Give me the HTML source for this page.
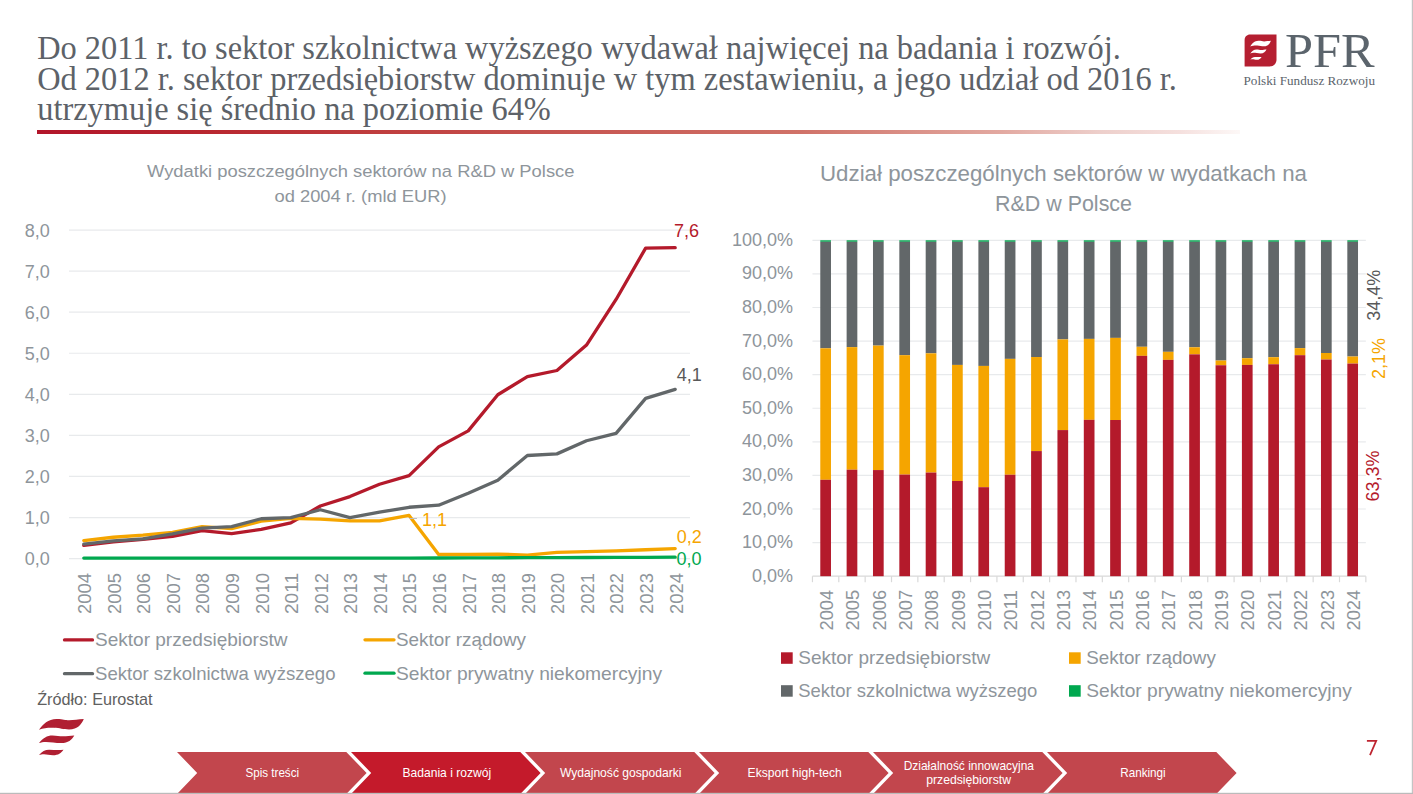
<!DOCTYPE html><html><head><meta charset="utf-8"><style>html,body{margin:0;padding:0;background:#fff;}svg{display:block}</style></head><body>
<svg width="1413" height="794" viewBox="0 0 1413 794">
<defs><linearGradient id="ul" x1="0" x2="1" y1="0" y2="0"><stop offset="0" stop-color="#B2152A"/><stop offset="0.135" stop-color="#B8262F"/><stop offset="0.302" stop-color="#C04040"/><stop offset="0.634" stop-color="#D07268"/><stop offset="0.80" stop-color="#E2A8A0"/><stop offset="0.884" stop-color="#EDCFCB"/><stop offset="0.95" stop-color="#F5E0DE"/><stop offset="1" stop-color="#FDF8F7"/></linearGradient></defs>
<rect width="1413" height="794" fill="#fff"/>
<text x="37.20" y="59.00" font-size="33.0" fill="#5D6268" font-family='"Liberation Serif", serif' text-anchor="start" textLength="1083.56" lengthAdjust="spacingAndGlyphs">Do 2011 r. to sektor szkolnictwa wyższego wydawał najwięcej na badania i rozwój.</text>
<text x="37.20" y="89.50" font-size="33.0" fill="#5D6268" font-family='"Liberation Serif", serif' text-anchor="start" textLength="1139.75" lengthAdjust="spacingAndGlyphs">Od 2012 r. sektor przedsiębiorstw dominuje w tym zestawieniu, a jego udział od 2016 r.</text>
<text x="37.20" y="120.00" font-size="33.0" fill="#5D6268" font-family='"Liberation Serif", serif' text-anchor="start" textLength="513.62" lengthAdjust="spacingAndGlyphs">utrzymuje się średnio na poziomie 64%</text>
<rect x="37" y="130" width="1203" height="4" fill="url(#ul)"/>
<path d="M1250.0,34.6 H1276.5 V59.7 C1276.5,63.5 1273.5,66.5 1269.7,66.5 H1244.6 V40.0 C1244.6,37.0 1247.0,34.6 1250.0,34.6 Z" fill="#B51F31"/>
<path transform="translate(1250.3,40.8) scale(0.46,0.526)" d="M0,10.7 C4,5 9,0 17.6,-0.1 C24,-0.2 26,1.2 30,1.2 C35,1.2 39,0 44.8,-0.1 C42.5,5 39,10.4 30,10.4 C24,10.4 21,9 15,8.8 C9,8.6 5,9 0,10.7 Z M0,24 C4,19 8,16.4 13.4,16.4 C18,16.4 20,17.3 24,17.3 C28,17.3 31,16.6 35.3,16.4 C33,20.5 29,24.1 22.5,24.1 C16,24.1 12,22.9 7,22.9 C4,22.9 2,23.3 0,24 Z M0,36.1 C3,32.5 6,30.7 10.1,30.7 C15,30.7 19,31.3 24.5,30.7 C22,34 19.5,36.2 14,36.2 C10,36.2 8,35.3 5,35.3 C3,35.3 1.5,35.6 0,36.1 Z" fill="#FFFFFF"/>
<text x="1285.00" y="67.20" font-size="48" fill="#5B646C" font-family='"Liberation Serif", serif' text-anchor="start" textLength="89.60" lengthAdjust="spacingAndGlyphs">PFR</text>
<text x="1243.50" y="84.50" font-size="12" fill="#5B646C" font-family='"Liberation Serif", serif' text-anchor="start" textLength="131.50" lengthAdjust="spacingAndGlyphs">Polski Fundusz Rozwoju</text>
<text x="147.00" y="176.90" font-size="17.2" fill="#8E959B" font-family='"Liberation Sans", sans-serif' text-anchor="start" textLength="427.50" lengthAdjust="spacingAndGlyphs">Wydatki poszczególnych sektorów na R&amp;D w Polsce</text>
<text x="274.50" y="202.40" font-size="17.2" fill="#8E959B" font-family='"Liberation Sans", sans-serif' text-anchor="start" textLength="172.00" lengthAdjust="spacingAndGlyphs">od 2004 r. (mld EUR)</text>
<line x1="69" y1="558.60" x2="690" y2="558.60" stroke="#E8EAEC" stroke-width="1.2"/>
<text x="49.80" y="565.10" font-size="18" fill="#8E959B" font-family='"Liberation Sans", sans-serif' text-anchor="end">0,0</text>
<line x1="69" y1="517.53" x2="690" y2="517.53" stroke="#E8EAEC" stroke-width="1.2"/>
<text x="49.80" y="524.03" font-size="18" fill="#8E959B" font-family='"Liberation Sans", sans-serif' text-anchor="end">1,0</text>
<line x1="69" y1="476.46" x2="690" y2="476.46" stroke="#E8EAEC" stroke-width="1.2"/>
<text x="49.80" y="482.96" font-size="18" fill="#8E959B" font-family='"Liberation Sans", sans-serif' text-anchor="end">2,0</text>
<line x1="69" y1="435.39" x2="690" y2="435.39" stroke="#E8EAEC" stroke-width="1.2"/>
<text x="49.80" y="441.89" font-size="18" fill="#8E959B" font-family='"Liberation Sans", sans-serif' text-anchor="end">3,0</text>
<line x1="69" y1="394.32" x2="690" y2="394.32" stroke="#E8EAEC" stroke-width="1.2"/>
<text x="49.80" y="400.82" font-size="18" fill="#8E959B" font-family='"Liberation Sans", sans-serif' text-anchor="end">4,0</text>
<line x1="69" y1="353.25" x2="690" y2="353.25" stroke="#E8EAEC" stroke-width="1.2"/>
<text x="49.80" y="359.75" font-size="18" fill="#8E959B" font-family='"Liberation Sans", sans-serif' text-anchor="end">5,0</text>
<line x1="69" y1="312.18" x2="690" y2="312.18" stroke="#E8EAEC" stroke-width="1.2"/>
<text x="49.80" y="318.68" font-size="18" fill="#8E959B" font-family='"Liberation Sans", sans-serif' text-anchor="end">6,0</text>
<line x1="69" y1="271.11" x2="690" y2="271.11" stroke="#E8EAEC" stroke-width="1.2"/>
<text x="49.80" y="277.61" font-size="18" fill="#8E959B" font-family='"Liberation Sans", sans-serif' text-anchor="end">7,0</text>
<line x1="69" y1="230.04" x2="690" y2="230.04" stroke="#E8EAEC" stroke-width="1.2"/>
<text x="49.80" y="236.54" font-size="18" fill="#8E959B" font-family='"Liberation Sans", sans-serif' text-anchor="end">8,0</text>
<text transform="translate(91.09,573.00) rotate(-90)" font-size="18" fill="#8E959B" font-family='"Liberation Sans", sans-serif' text-anchor="end" textLength="41" lengthAdjust="spacingAndGlyphs">2004</text>
<text transform="translate(120.66,573.00) rotate(-90)" font-size="18" fill="#8E959B" font-family='"Liberation Sans", sans-serif' text-anchor="end" textLength="41" lengthAdjust="spacingAndGlyphs">2005</text>
<text transform="translate(150.23,573.00) rotate(-90)" font-size="18" fill="#8E959B" font-family='"Liberation Sans", sans-serif' text-anchor="end" textLength="41" lengthAdjust="spacingAndGlyphs">2006</text>
<text transform="translate(179.80,573.00) rotate(-90)" font-size="18" fill="#8E959B" font-family='"Liberation Sans", sans-serif' text-anchor="end" textLength="41" lengthAdjust="spacingAndGlyphs">2007</text>
<text transform="translate(209.37,573.00) rotate(-90)" font-size="18" fill="#8E959B" font-family='"Liberation Sans", sans-serif' text-anchor="end" textLength="41" lengthAdjust="spacingAndGlyphs">2008</text>
<text transform="translate(238.94,573.00) rotate(-90)" font-size="18" fill="#8E959B" font-family='"Liberation Sans", sans-serif' text-anchor="end" textLength="41" lengthAdjust="spacingAndGlyphs">2009</text>
<text transform="translate(268.51,573.00) rotate(-90)" font-size="18" fill="#8E959B" font-family='"Liberation Sans", sans-serif' text-anchor="end" textLength="41" lengthAdjust="spacingAndGlyphs">2010</text>
<text transform="translate(298.09,573.00) rotate(-90)" font-size="18" fill="#8E959B" font-family='"Liberation Sans", sans-serif' text-anchor="end" textLength="41" lengthAdjust="spacingAndGlyphs">2011</text>
<text transform="translate(327.66,573.00) rotate(-90)" font-size="18" fill="#8E959B" font-family='"Liberation Sans", sans-serif' text-anchor="end" textLength="41" lengthAdjust="spacingAndGlyphs">2012</text>
<text transform="translate(357.23,573.00) rotate(-90)" font-size="18" fill="#8E959B" font-family='"Liberation Sans", sans-serif' text-anchor="end" textLength="41" lengthAdjust="spacingAndGlyphs">2013</text>
<text transform="translate(386.80,573.00) rotate(-90)" font-size="18" fill="#8E959B" font-family='"Liberation Sans", sans-serif' text-anchor="end" textLength="41" lengthAdjust="spacingAndGlyphs">2014</text>
<text transform="translate(416.37,573.00) rotate(-90)" font-size="18" fill="#8E959B" font-family='"Liberation Sans", sans-serif' text-anchor="end" textLength="41" lengthAdjust="spacingAndGlyphs">2015</text>
<text transform="translate(445.94,573.00) rotate(-90)" font-size="18" fill="#8E959B" font-family='"Liberation Sans", sans-serif' text-anchor="end" textLength="41" lengthAdjust="spacingAndGlyphs">2016</text>
<text transform="translate(475.51,573.00) rotate(-90)" font-size="18" fill="#8E959B" font-family='"Liberation Sans", sans-serif' text-anchor="end" textLength="41" lengthAdjust="spacingAndGlyphs">2017</text>
<text transform="translate(505.09,573.00) rotate(-90)" font-size="18" fill="#8E959B" font-family='"Liberation Sans", sans-serif' text-anchor="end" textLength="41" lengthAdjust="spacingAndGlyphs">2018</text>
<text transform="translate(534.66,573.00) rotate(-90)" font-size="18" fill="#8E959B" font-family='"Liberation Sans", sans-serif' text-anchor="end" textLength="41" lengthAdjust="spacingAndGlyphs">2019</text>
<text transform="translate(564.23,573.00) rotate(-90)" font-size="18" fill="#8E959B" font-family='"Liberation Sans", sans-serif' text-anchor="end" textLength="41" lengthAdjust="spacingAndGlyphs">2020</text>
<text transform="translate(593.80,573.00) rotate(-90)" font-size="18" fill="#8E959B" font-family='"Liberation Sans", sans-serif' text-anchor="end" textLength="41" lengthAdjust="spacingAndGlyphs">2021</text>
<text transform="translate(623.37,573.00) rotate(-90)" font-size="18" fill="#8E959B" font-family='"Liberation Sans", sans-serif' text-anchor="end" textLength="41" lengthAdjust="spacingAndGlyphs">2022</text>
<text transform="translate(652.94,573.00) rotate(-90)" font-size="18" fill="#8E959B" font-family='"Liberation Sans", sans-serif' text-anchor="end" textLength="41" lengthAdjust="spacingAndGlyphs">2023</text>
<text transform="translate(682.51,573.00) rotate(-90)" font-size="18" fill="#8E959B" font-family='"Liberation Sans", sans-serif' text-anchor="end" textLength="41" lengthAdjust="spacingAndGlyphs">2024</text>
<polyline points="83.79,545.46 113.36,541.76 142.93,539.30 172.50,536.42 202.07,530.67 231.64,533.55 261.21,529.44 290.79,522.87 320.36,506.03 349.93,496.58 379.50,484.26 409.07,475.64 438.64,446.89 468.21,430.87 497.79,394.73 527.36,376.66 556.93,370.50 586.50,345.04 616.07,299.45 645.64,248.11 675.21,247.70" fill="none" stroke="#B41A2B" stroke-width="3.3" stroke-linejoin="round" stroke-linecap="round"/>
<polyline points="83.79,540.53 113.36,537.24 142.93,535.19 172.50,532.32 202.07,526.57 231.64,528.62 261.21,521.23 290.79,518.35 320.36,519.17 349.93,520.82 379.50,520.82 409.07,515.48 438.64,554.49 468.21,554.49 497.79,554.08 527.36,555.11 556.93,552.44 586.50,551.62 616.07,550.80 645.64,549.77 675.21,548.54" fill="none" stroke="#F5A500" stroke-width="3.3" stroke-linejoin="round" stroke-linecap="round"/>
<polyline points="83.79,544.02 113.36,540.94 142.93,538.89 172.50,533.96 202.07,528.21 231.64,526.57 261.21,518.76 290.79,517.53 320.36,509.73 349.93,517.53 379.50,512.19 409.07,507.26 438.64,505.21 468.21,493.30 497.79,480.16 527.36,455.51 556.93,453.87 586.50,440.73 616.07,433.34 645.64,398.43 675.21,389.39" fill="none" stroke="#626769" stroke-width="3.3" stroke-linejoin="round" stroke-linecap="round"/>
<polyline points="83.79,558.11 113.36,558.11 142.93,558.11 172.50,558.11 202.07,558.11 231.64,558.11 261.21,558.11 290.79,558.11 320.36,558.11 349.93,558.11 379.50,558.11 409.07,558.11 438.64,557.98 468.21,557.90 497.79,557.78 527.36,557.70 556.93,557.57 586.50,557.49 616.07,557.37 645.64,557.29 675.21,557.16" fill="none" stroke="#00A84F" stroke-width="3.3" stroke-linejoin="round" stroke-linecap="round"/>
<line x1="409.07" y1="518.5" x2="417" y2="518.5" stroke="#BFBFBF" stroke-width="1"/>
<text x="422.00" y="526.00" font-size="18" fill="#F5A500" font-family='"Liberation Sans", sans-serif' text-anchor="start">1,1</text>
<text x="673.90" y="237.30" font-size="18" fill="#B41A2B" font-family='"Liberation Sans", sans-serif' text-anchor="start">7,6</text>
<text x="676.80" y="380.60" font-size="18" fill="#595959" font-family='"Liberation Sans", sans-serif' text-anchor="start">4,1</text>
<text x="676.80" y="543.40" font-size="18" fill="#F5A500" font-family='"Liberation Sans", sans-serif' text-anchor="start">0,2</text>
<text x="676.60" y="565.00" font-size="18" fill="#00A84F" font-family='"Liberation Sans", sans-serif' text-anchor="start">0,0</text>
<line x1="64.5" y1="639.9" x2="92.5" y2="639.9" stroke="#B41A2B" stroke-width="3.3" stroke-linecap="round"/>
<text x="95.00" y="646.20" font-size="19" fill="#8E959B" font-family='"Liberation Sans", sans-serif' text-anchor="start" textLength="192.50" lengthAdjust="spacingAndGlyphs">Sektor przedsiębiorstw</text>
<line x1="365" y1="639.8" x2="394" y2="639.8" stroke="#F5A500" stroke-width="3.3" stroke-linecap="round"/>
<text x="396.00" y="646.20" font-size="19" fill="#8E959B" font-family='"Liberation Sans", sans-serif' text-anchor="start" textLength="130.00" lengthAdjust="spacingAndGlyphs">Sektor rządowy</text>
<line x1="64.5" y1="673.7" x2="92.5" y2="673.7" stroke="#626769" stroke-width="3.3" stroke-linecap="round"/>
<text x="95.00" y="680.10" font-size="19" fill="#8E959B" font-family='"Liberation Sans", sans-serif' text-anchor="start" textLength="240.50" lengthAdjust="spacingAndGlyphs">Sektor szkolnictwa wyższego</text>
<line x1="365" y1="673.2" x2="394" y2="673.2" stroke="#00A84F" stroke-width="3.3" stroke-linecap="round"/>
<text x="396.00" y="680.10" font-size="19" fill="#8E959B" font-family='"Liberation Sans", sans-serif' text-anchor="start" textLength="266.00" lengthAdjust="spacingAndGlyphs">Sektor prywatny niekomercyjny</text>
<text x="37.20" y="704.80" font-size="16.4" fill="#606060" font-family='"Liberation Sans", sans-serif' text-anchor="start" textLength="115.30" lengthAdjust="spacingAndGlyphs">Źródło: Eurostat</text>
<text x="820.00" y="180.90" font-size="21.4" fill="#8E959B" font-family='"Liberation Sans", sans-serif' text-anchor="start" textLength="487.00" lengthAdjust="spacingAndGlyphs">Udział poszczególnych sektorów w wydatkach na</text>
<text x="995.00" y="210.90" font-size="21.4" fill="#8E959B" font-family='"Liberation Sans", sans-serif' text-anchor="start" textLength="137.00" lengthAdjust="spacingAndGlyphs">R&amp;D w Polsce</text>
<line x1="812.45" y1="542.61" x2="1365.85" y2="542.61" stroke="#E8EAEC" stroke-width="1.2"/>
<line x1="812.45" y1="509.02" x2="1365.85" y2="509.02" stroke="#E8EAEC" stroke-width="1.2"/>
<line x1="812.45" y1="475.43" x2="1365.85" y2="475.43" stroke="#E8EAEC" stroke-width="1.2"/>
<line x1="812.45" y1="441.84" x2="1365.85" y2="441.84" stroke="#E8EAEC" stroke-width="1.2"/>
<line x1="812.45" y1="408.25" x2="1365.85" y2="408.25" stroke="#E8EAEC" stroke-width="1.2"/>
<line x1="812.45" y1="374.66" x2="1365.85" y2="374.66" stroke="#E8EAEC" stroke-width="1.2"/>
<line x1="812.45" y1="341.07" x2="1365.85" y2="341.07" stroke="#E8EAEC" stroke-width="1.2"/>
<line x1="812.45" y1="307.48" x2="1365.85" y2="307.48" stroke="#E8EAEC" stroke-width="1.2"/>
<line x1="812.45" y1="273.89" x2="1365.85" y2="273.89" stroke="#E8EAEC" stroke-width="1.2"/>
<line x1="812.45" y1="240.30" x2="1365.85" y2="240.30" stroke="#E8EAEC" stroke-width="1.2"/>
<text x="793.00" y="581.80" font-size="18" fill="#8E959B" font-family='"Liberation Sans", sans-serif' text-anchor="end">0,0%</text>
<text x="793.00" y="548.21" font-size="18" fill="#8E959B" font-family='"Liberation Sans", sans-serif' text-anchor="end">10,0%</text>
<text x="793.00" y="514.62" font-size="18" fill="#8E959B" font-family='"Liberation Sans", sans-serif' text-anchor="end">20,0%</text>
<text x="793.00" y="481.03" font-size="18" fill="#8E959B" font-family='"Liberation Sans", sans-serif' text-anchor="end">30,0%</text>
<text x="793.00" y="447.44" font-size="18" fill="#8E959B" font-family='"Liberation Sans", sans-serif' text-anchor="end">40,0%</text>
<text x="793.00" y="413.85" font-size="18" fill="#8E959B" font-family='"Liberation Sans", sans-serif' text-anchor="end">50,0%</text>
<text x="793.00" y="380.26" font-size="18" fill="#8E959B" font-family='"Liberation Sans", sans-serif' text-anchor="end">60,0%</text>
<text x="793.00" y="346.67" font-size="18" fill="#8E959B" font-family='"Liberation Sans", sans-serif' text-anchor="end">70,0%</text>
<text x="793.00" y="313.08" font-size="18" fill="#8E959B" font-family='"Liberation Sans", sans-serif' text-anchor="end">80,0%</text>
<text x="793.00" y="279.49" font-size="18" fill="#8E959B" font-family='"Liberation Sans", sans-serif' text-anchor="end">90,0%</text>
<text x="793.00" y="245.90" font-size="18" fill="#8E959B" font-family='"Liberation Sans", sans-serif' text-anchor="end">100,0%</text>
<line x1="812.45" y1="576.20" x2="1365.85" y2="576.20" stroke="#D9D9D9" stroke-width="1.3"/>
<line x1="812.45" y1="576.20" x2="812.45" y2="582.20" stroke="#D9D9D9" stroke-width="1.2"/>
<line x1="838.80" y1="576.20" x2="838.80" y2="582.20" stroke="#D9D9D9" stroke-width="1.2"/>
<line x1="865.15" y1="576.20" x2="865.15" y2="582.20" stroke="#D9D9D9" stroke-width="1.2"/>
<line x1="891.51" y1="576.20" x2="891.51" y2="582.20" stroke="#D9D9D9" stroke-width="1.2"/>
<line x1="917.86" y1="576.20" x2="917.86" y2="582.20" stroke="#D9D9D9" stroke-width="1.2"/>
<line x1="944.21" y1="576.20" x2="944.21" y2="582.20" stroke="#D9D9D9" stroke-width="1.2"/>
<line x1="970.56" y1="576.20" x2="970.56" y2="582.20" stroke="#D9D9D9" stroke-width="1.2"/>
<line x1="996.92" y1="576.20" x2="996.92" y2="582.20" stroke="#D9D9D9" stroke-width="1.2"/>
<line x1="1023.27" y1="576.20" x2="1023.27" y2="582.20" stroke="#D9D9D9" stroke-width="1.2"/>
<line x1="1049.62" y1="576.20" x2="1049.62" y2="582.20" stroke="#D9D9D9" stroke-width="1.2"/>
<line x1="1075.97" y1="576.20" x2="1075.97" y2="582.20" stroke="#D9D9D9" stroke-width="1.2"/>
<line x1="1102.33" y1="576.20" x2="1102.33" y2="582.20" stroke="#D9D9D9" stroke-width="1.2"/>
<line x1="1128.68" y1="576.20" x2="1128.68" y2="582.20" stroke="#D9D9D9" stroke-width="1.2"/>
<line x1="1155.03" y1="576.20" x2="1155.03" y2="582.20" stroke="#D9D9D9" stroke-width="1.2"/>
<line x1="1181.38" y1="576.20" x2="1181.38" y2="582.20" stroke="#D9D9D9" stroke-width="1.2"/>
<line x1="1207.74" y1="576.20" x2="1207.74" y2="582.20" stroke="#D9D9D9" stroke-width="1.2"/>
<line x1="1234.09" y1="576.20" x2="1234.09" y2="582.20" stroke="#D9D9D9" stroke-width="1.2"/>
<line x1="1260.44" y1="576.20" x2="1260.44" y2="582.20" stroke="#D9D9D9" stroke-width="1.2"/>
<line x1="1286.79" y1="576.20" x2="1286.79" y2="582.20" stroke="#D9D9D9" stroke-width="1.2"/>
<line x1="1313.15" y1="576.20" x2="1313.15" y2="582.20" stroke="#D9D9D9" stroke-width="1.2"/>
<line x1="1339.50" y1="576.20" x2="1339.50" y2="582.20" stroke="#D9D9D9" stroke-width="1.2"/>
<line x1="1365.85" y1="576.20" x2="1365.85" y2="582.20" stroke="#D9D9D9" stroke-width="1.2"/>
<rect x="820.28" y="240.30" width="10.7" height="1.51" fill="#00A84F"/>
<rect x="820.28" y="241.81" width="10.7" height="106.48" fill="#626769"/>
<rect x="820.28" y="348.29" width="10.7" height="131.50" fill="#F5A500"/>
<rect x="820.28" y="479.80" width="10.7" height="96.40" fill="#B41A2B"/>
<rect x="846.63" y="240.30" width="10.7" height="1.51" fill="#00A84F"/>
<rect x="846.63" y="241.81" width="10.7" height="105.30" fill="#626769"/>
<rect x="846.63" y="347.12" width="10.7" height="122.60" fill="#F5A500"/>
<rect x="846.63" y="469.72" width="10.7" height="106.48" fill="#B41A2B"/>
<rect x="872.98" y="240.30" width="10.7" height="1.51" fill="#00A84F"/>
<rect x="872.98" y="241.81" width="10.7" height="103.79" fill="#626769"/>
<rect x="872.98" y="345.60" width="10.7" height="124.45" fill="#F5A500"/>
<rect x="872.98" y="470.06" width="10.7" height="106.14" fill="#B41A2B"/>
<rect x="899.33" y="240.30" width="10.7" height="1.51" fill="#00A84F"/>
<rect x="899.33" y="241.81" width="10.7" height="113.37" fill="#626769"/>
<rect x="899.33" y="355.18" width="10.7" height="119.41" fill="#F5A500"/>
<rect x="899.33" y="474.59" width="10.7" height="101.61" fill="#B41A2B"/>
<rect x="925.69" y="240.30" width="10.7" height="1.51" fill="#00A84F"/>
<rect x="925.69" y="241.81" width="10.7" height="111.52" fill="#626769"/>
<rect x="925.69" y="353.33" width="10.7" height="119.24" fill="#F5A500"/>
<rect x="925.69" y="472.57" width="10.7" height="103.63" fill="#B41A2B"/>
<rect x="952.04" y="240.30" width="10.7" height="1.51" fill="#00A84F"/>
<rect x="952.04" y="241.81" width="10.7" height="123.11" fill="#626769"/>
<rect x="952.04" y="364.92" width="10.7" height="116.05" fill="#F5A500"/>
<rect x="952.04" y="480.97" width="10.7" height="95.23" fill="#B41A2B"/>
<rect x="978.39" y="240.30" width="10.7" height="1.51" fill="#00A84F"/>
<rect x="978.39" y="241.81" width="10.7" height="124.12" fill="#626769"/>
<rect x="978.39" y="365.93" width="10.7" height="121.26" fill="#F5A500"/>
<rect x="978.39" y="487.19" width="10.7" height="89.01" fill="#B41A2B"/>
<rect x="1004.74" y="240.30" width="10.7" height="1.51" fill="#00A84F"/>
<rect x="1004.74" y="241.81" width="10.7" height="117.06" fill="#626769"/>
<rect x="1004.74" y="358.87" width="10.7" height="115.89" fill="#F5A500"/>
<rect x="1004.74" y="474.76" width="10.7" height="101.44" fill="#B41A2B"/>
<rect x="1031.10" y="240.30" width="10.7" height="1.51" fill="#00A84F"/>
<rect x="1031.10" y="241.81" width="10.7" height="115.21" fill="#626769"/>
<rect x="1031.10" y="357.03" width="10.7" height="94.05" fill="#F5A500"/>
<rect x="1031.10" y="451.08" width="10.7" height="125.12" fill="#B41A2B"/>
<rect x="1057.45" y="240.30" width="10.7" height="1.51" fill="#00A84F"/>
<rect x="1057.45" y="241.81" width="10.7" height="97.58" fill="#626769"/>
<rect x="1057.45" y="339.39" width="10.7" height="90.69" fill="#F5A500"/>
<rect x="1057.45" y="430.08" width="10.7" height="146.12" fill="#B41A2B"/>
<rect x="1083.80" y="240.30" width="10.7" height="1.51" fill="#00A84F"/>
<rect x="1083.80" y="241.81" width="10.7" height="97.08" fill="#626769"/>
<rect x="1083.80" y="338.89" width="10.7" height="80.95" fill="#F5A500"/>
<rect x="1083.80" y="419.84" width="10.7" height="156.36" fill="#B41A2B"/>
<rect x="1110.15" y="240.30" width="10.7" height="1.51" fill="#00A84F"/>
<rect x="1110.15" y="241.81" width="10.7" height="96.07" fill="#626769"/>
<rect x="1110.15" y="337.88" width="10.7" height="82.13" fill="#F5A500"/>
<rect x="1110.15" y="420.01" width="10.7" height="156.19" fill="#B41A2B"/>
<rect x="1136.50" y="240.30" width="10.7" height="1.51" fill="#00A84F"/>
<rect x="1136.50" y="241.81" width="10.7" height="104.97" fill="#626769"/>
<rect x="1136.50" y="346.78" width="10.7" height="9.07" fill="#F5A500"/>
<rect x="1136.50" y="355.85" width="10.7" height="220.35" fill="#B41A2B"/>
<rect x="1162.86" y="240.30" width="10.7" height="1.51" fill="#00A84F"/>
<rect x="1162.86" y="241.81" width="10.7" height="110.01" fill="#626769"/>
<rect x="1162.86" y="351.82" width="10.7" height="8.06" fill="#F5A500"/>
<rect x="1162.86" y="359.88" width="10.7" height="216.32" fill="#B41A2B"/>
<rect x="1189.21" y="240.30" width="10.7" height="1.51" fill="#00A84F"/>
<rect x="1189.21" y="241.81" width="10.7" height="105.47" fill="#626769"/>
<rect x="1189.21" y="347.28" width="10.7" height="7.05" fill="#F5A500"/>
<rect x="1189.21" y="354.34" width="10.7" height="221.86" fill="#B41A2B"/>
<rect x="1215.56" y="240.30" width="10.7" height="1.51" fill="#00A84F"/>
<rect x="1215.56" y="241.81" width="10.7" height="118.74" fill="#626769"/>
<rect x="1215.56" y="360.55" width="10.7" height="4.70" fill="#F5A500"/>
<rect x="1215.56" y="365.25" width="10.7" height="210.95" fill="#B41A2B"/>
<rect x="1241.91" y="240.30" width="10.7" height="1.51" fill="#00A84F"/>
<rect x="1241.91" y="241.81" width="10.7" height="116.39" fill="#626769"/>
<rect x="1241.91" y="358.20" width="10.7" height="6.72" fill="#F5A500"/>
<rect x="1241.91" y="364.92" width="10.7" height="211.28" fill="#B41A2B"/>
<rect x="1268.27" y="240.30" width="10.7" height="1.51" fill="#00A84F"/>
<rect x="1268.27" y="241.81" width="10.7" height="115.38" fill="#626769"/>
<rect x="1268.27" y="357.19" width="10.7" height="7.05" fill="#F5A500"/>
<rect x="1268.27" y="364.25" width="10.7" height="211.95" fill="#B41A2B"/>
<rect x="1294.62" y="240.30" width="10.7" height="1.51" fill="#00A84F"/>
<rect x="1294.62" y="241.81" width="10.7" height="106.31" fill="#626769"/>
<rect x="1294.62" y="348.12" width="10.7" height="7.05" fill="#F5A500"/>
<rect x="1294.62" y="355.18" width="10.7" height="221.02" fill="#B41A2B"/>
<rect x="1320.97" y="240.30" width="10.7" height="1.51" fill="#00A84F"/>
<rect x="1320.97" y="241.81" width="10.7" height="111.18" fill="#626769"/>
<rect x="1320.97" y="352.99" width="10.7" height="6.55" fill="#F5A500"/>
<rect x="1320.97" y="359.54" width="10.7" height="216.66" fill="#B41A2B"/>
<rect x="1347.32" y="240.30" width="10.7" height="1.51" fill="#00A84F"/>
<rect x="1347.32" y="241.81" width="10.7" height="114.71" fill="#626769"/>
<rect x="1347.32" y="356.52" width="10.7" height="7.05" fill="#F5A500"/>
<rect x="1347.32" y="363.58" width="10.7" height="212.62" fill="#B41A2B"/>
<text transform="translate(832.83,589.90) rotate(-90)" font-size="18" fill="#8E959B" font-family='"Liberation Sans", sans-serif' text-anchor="end" textLength="40.6" lengthAdjust="spacingAndGlyphs">2004</text>
<text transform="translate(859.18,589.90) rotate(-90)" font-size="18" fill="#8E959B" font-family='"Liberation Sans", sans-serif' text-anchor="end" textLength="40.6" lengthAdjust="spacingAndGlyphs">2005</text>
<text transform="translate(885.53,589.90) rotate(-90)" font-size="18" fill="#8E959B" font-family='"Liberation Sans", sans-serif' text-anchor="end" textLength="40.6" lengthAdjust="spacingAndGlyphs">2006</text>
<text transform="translate(911.88,589.90) rotate(-90)" font-size="18" fill="#8E959B" font-family='"Liberation Sans", sans-serif' text-anchor="end" textLength="40.6" lengthAdjust="spacingAndGlyphs">2007</text>
<text transform="translate(938.24,589.90) rotate(-90)" font-size="18" fill="#8E959B" font-family='"Liberation Sans", sans-serif' text-anchor="end" textLength="40.6" lengthAdjust="spacingAndGlyphs">2008</text>
<text transform="translate(964.59,589.90) rotate(-90)" font-size="18" fill="#8E959B" font-family='"Liberation Sans", sans-serif' text-anchor="end" textLength="40.6" lengthAdjust="spacingAndGlyphs">2009</text>
<text transform="translate(990.94,589.90) rotate(-90)" font-size="18" fill="#8E959B" font-family='"Liberation Sans", sans-serif' text-anchor="end" textLength="40.6" lengthAdjust="spacingAndGlyphs">2010</text>
<text transform="translate(1017.29,589.90) rotate(-90)" font-size="18" fill="#8E959B" font-family='"Liberation Sans", sans-serif' text-anchor="end" textLength="40.6" lengthAdjust="spacingAndGlyphs">2011</text>
<text transform="translate(1043.65,589.90) rotate(-90)" font-size="18" fill="#8E959B" font-family='"Liberation Sans", sans-serif' text-anchor="end" textLength="40.6" lengthAdjust="spacingAndGlyphs">2012</text>
<text transform="translate(1070.00,589.90) rotate(-90)" font-size="18" fill="#8E959B" font-family='"Liberation Sans", sans-serif' text-anchor="end" textLength="40.6" lengthAdjust="spacingAndGlyphs">2013</text>
<text transform="translate(1096.35,589.90) rotate(-90)" font-size="18" fill="#8E959B" font-family='"Liberation Sans", sans-serif' text-anchor="end" textLength="40.6" lengthAdjust="spacingAndGlyphs">2014</text>
<text transform="translate(1122.70,589.90) rotate(-90)" font-size="18" fill="#8E959B" font-family='"Liberation Sans", sans-serif' text-anchor="end" textLength="40.6" lengthAdjust="spacingAndGlyphs">2015</text>
<text transform="translate(1149.05,589.90) rotate(-90)" font-size="18" fill="#8E959B" font-family='"Liberation Sans", sans-serif' text-anchor="end" textLength="40.6" lengthAdjust="spacingAndGlyphs">2016</text>
<text transform="translate(1175.41,589.90) rotate(-90)" font-size="18" fill="#8E959B" font-family='"Liberation Sans", sans-serif' text-anchor="end" textLength="40.6" lengthAdjust="spacingAndGlyphs">2017</text>
<text transform="translate(1201.76,589.90) rotate(-90)" font-size="18" fill="#8E959B" font-family='"Liberation Sans", sans-serif' text-anchor="end" textLength="40.6" lengthAdjust="spacingAndGlyphs">2018</text>
<text transform="translate(1228.11,589.90) rotate(-90)" font-size="18" fill="#8E959B" font-family='"Liberation Sans", sans-serif' text-anchor="end" textLength="40.6" lengthAdjust="spacingAndGlyphs">2019</text>
<text transform="translate(1254.46,589.90) rotate(-90)" font-size="18" fill="#8E959B" font-family='"Liberation Sans", sans-serif' text-anchor="end" textLength="40.6" lengthAdjust="spacingAndGlyphs">2020</text>
<text transform="translate(1280.82,589.90) rotate(-90)" font-size="18" fill="#8E959B" font-family='"Liberation Sans", sans-serif' text-anchor="end" textLength="40.6" lengthAdjust="spacingAndGlyphs">2021</text>
<text transform="translate(1307.17,589.90) rotate(-90)" font-size="18" fill="#8E959B" font-family='"Liberation Sans", sans-serif' text-anchor="end" textLength="40.6" lengthAdjust="spacingAndGlyphs">2022</text>
<text transform="translate(1333.52,589.90) rotate(-90)" font-size="18" fill="#8E959B" font-family='"Liberation Sans", sans-serif' text-anchor="end" textLength="40.6" lengthAdjust="spacingAndGlyphs">2023</text>
<text transform="translate(1359.87,589.90) rotate(-90)" font-size="18" fill="#8E959B" font-family='"Liberation Sans", sans-serif' text-anchor="end" textLength="40.6" lengthAdjust="spacingAndGlyphs">2024</text>
<text transform="translate(1380.3,295.3) rotate(-90)" font-size="18" fill="#595959" font-family='"Liberation Sans", sans-serif' text-anchor="middle">34,4%</text>
<text transform="translate(1384.5,358.5) rotate(-90)" font-size="18" fill="#F5A500" font-family='"Liberation Sans", sans-serif' text-anchor="middle">2,1%</text>
<text transform="translate(1379.1,475.9) rotate(-90)" font-size="18" fill="#B41A2B" font-family='"Liberation Sans", sans-serif' text-anchor="middle">63,3%</text>
<rect x="781" y="652.3" width="11.7" height="11.5" fill="#B41A2B"/>
<text x="798.30" y="663.80" font-size="19" fill="#8E959B" font-family='"Liberation Sans", sans-serif' text-anchor="start" textLength="192.00" lengthAdjust="spacingAndGlyphs">Sektor przedsiębiorstw</text>
<rect x="1069" y="652.3" width="11.7" height="11.5" fill="#F5A500"/>
<text x="1086.30" y="663.80" font-size="19" fill="#8E959B" font-family='"Liberation Sans", sans-serif' text-anchor="start" textLength="129.50" lengthAdjust="spacingAndGlyphs">Sektor rządowy</text>
<rect x="781" y="685.2" width="11.7" height="11.5" fill="#626769"/>
<text x="798.30" y="696.70" font-size="19" fill="#8E959B" font-family='"Liberation Sans", sans-serif' text-anchor="start" textLength="239.00" lengthAdjust="spacingAndGlyphs">Sektor szkolnictwa wyższego</text>
<rect x="1069" y="685.2" width="11.7" height="11.5" fill="#00A84F"/>
<text x="1086.30" y="696.70" font-size="19" fill="#8E959B" font-family='"Liberation Sans", sans-serif' text-anchor="start" textLength="265.50" lengthAdjust="spacingAndGlyphs">Sektor prywatny niekomercyjny</text>
<path transform="translate(39,719) scale(1.0,1.0)" d="M0,10.7 C4,5 9,0 17.6,-0.1 C24,-0.2 26,1.2 30,1.2 C35,1.2 39,0 44.8,-0.1 C42.5,5 39,10.4 30,10.4 C24,10.4 21,9 15,8.8 C9,8.6 5,9 0,10.7 Z M0,24 C4,19 8,16.4 13.4,16.4 C18,16.4 20,17.3 24,17.3 C28,17.3 31,16.6 35.3,16.4 C33,20.5 29,24.1 22.5,24.1 C16,24.1 12,22.9 7,22.9 C4,22.9 2,23.3 0,24 Z M0,36.1 C3,32.5 6,30.7 10.1,30.7 C15,30.7 19,31.3 24.5,30.7 C22,34 19.5,36.2 14,36.2 C10,36.2 8,35.3 5,35.3 C3,35.3 1.5,35.6 0,36.1 Z" fill="#B01F32"/>
<path d="M1366.9,740.8 H1376.2 L1370.0,755.2" fill="none" stroke="#BE2430" stroke-width="1.75" stroke-linejoin="miter"/>
<path d="M177,752 H346.3 L366.6,773 L346.3,794 H177 L197.2,773 Z" fill="#C2464D"/>
<text x="245.40" y="777.00" font-size="12.6" fill="#FFFFFF" font-family='"Liberation Sans", sans-serif' text-anchor="start" textLength="53.70" lengthAdjust="spacingAndGlyphs">Spis treści</text>
<path d="M351,752 H520.3 L540.6,773 L520.3,794 H351 L371.2,773 Z" fill="#C41A2B"/>
<text x="402.50" y="777.00" font-size="12.6" fill="#FFFFFF" font-family='"Liberation Sans", sans-serif' text-anchor="start" textLength="88.60" lengthAdjust="spacingAndGlyphs">Badania i rozwój</text>
<path d="M525,752 H694.3 L714.6,773 L694.3,794 H525 L545.2,773 Z" fill="#C2464D"/>
<text x="559.90" y="777.00" font-size="12.6" fill="#FFFFFF" font-family='"Liberation Sans", sans-serif' text-anchor="start" textLength="121.60" lengthAdjust="spacingAndGlyphs">Wydajność gospodarki</text>
<path d="M699,752 H868.3 L888.6,773 L868.3,794 H699 L719.2,773 Z" fill="#C2464D"/>
<text x="747.60" y="777.00" font-size="12.6" fill="#FFFFFF" font-family='"Liberation Sans", sans-serif' text-anchor="start" textLength="94.20" lengthAdjust="spacingAndGlyphs">Eksport high-tech</text>
<path d="M873,752 H1042.3 L1062.6,773 L1042.3,794 H873 L893.2,773 Z" fill="#C2464D"/>
<text x="903.70" y="770.00" font-size="12.4" fill="#FFFFFF" font-family='"Liberation Sans", sans-serif' text-anchor="start" textLength="130.30" lengthAdjust="spacingAndGlyphs">Działalność innowacyjna</text>
<text x="926.20" y="783.50" font-size="12.4" fill="#FFFFFF" font-family='"Liberation Sans", sans-serif' text-anchor="start" textLength="84.80" lengthAdjust="spacingAndGlyphs">przedsiębiorstw</text>
<path d="M1047,752 H1216.3 L1236.6,773 L1216.3,794 H1047 L1067.2,773 Z" fill="#C2464D"/>
<text x="1120.20" y="777.00" font-size="12.6" fill="#FFFFFF" font-family='"Liberation Sans", sans-serif' text-anchor="start" textLength="45.50" lengthAdjust="spacingAndGlyphs">Rankingi</text>
<rect x="1411.8" y="0" width="1.2" height="794" fill="#C4C4C4"/>
<rect x="0" y="792.8" width="1413" height="1.2" fill="#BBBBBB"/>
</svg></body></html>
